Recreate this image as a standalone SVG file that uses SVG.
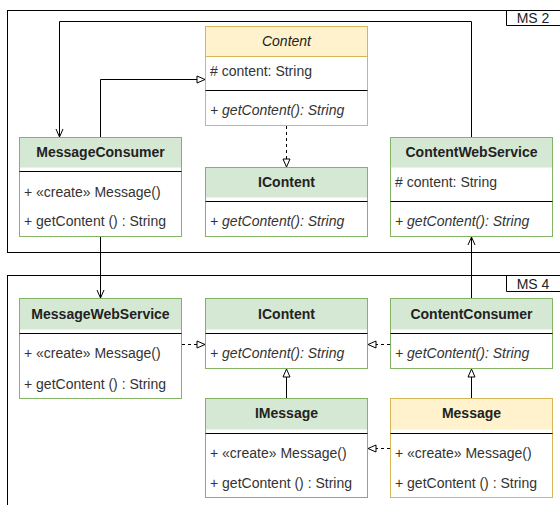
<svg xmlns="http://www.w3.org/2000/svg" width="560" height="505" viewBox="0 0 560 505">
<style>
text{font-family:"Liberation Sans",Arial,Helvetica,sans-serif;font-size:14px;fill:#333}
.h{font-weight:bold;text-anchor:middle;fill:#222}
.i{font-style:italic}
.hi{font-style:italic;text-anchor:middle;fill:#222}
.g{fill:#d5e8d4}
.y{fill:#fff2cc}
.gb{fill:#fff;stroke:#82b366}
.yb{fill:#fff;stroke:#d6b656}
.gs{fill:none;stroke:#82b366}
.ys{fill:none;stroke:#d6b656}
.d{stroke:#000;stroke-width:1}
.frame{fill:none;stroke:#000}
.c{fill:none;stroke:#000;stroke-width:1}
.dash{stroke-dasharray:3,3}
.ms{text-anchor:middle;fill:#222}
</style>
<defs>
<marker id="tri" markerUnits="userSpaceOnUse" markerWidth="12" markerHeight="12" refX="9" refY="5" orient="auto" overflow="visible">
<path d="M1,1.5 L9,5 L1,8.5 Z" fill="#fff" stroke="#000" stroke-width="1"/>
</marker>
<marker id="open" markerUnits="userSpaceOnUse" markerWidth="12" markerHeight="12" refX="9" refY="4" orient="auto" overflow="visible">
<path d="M1,0.5 L9,4 L1,7.5" fill="none" stroke="#000" stroke-width="1"/>
</marker>
</defs>

<g id="frames">
<rect class="frame" x="7.5" y="10.5" width="570" height="242"/>
<path class="frame" d="M506.5,10.5 V25.5 H570"/>
<text class="ms" x="533" y="23">MS 2</text>
<rect class="frame" x="7.5" y="275.5" width="570" height="250"/>
<path class="frame" d="M506.5,275.5 V291.5 H570"/>
<text class="ms" x="533" y="289">MS 4</text>
</g>

<g id="Content">
<rect class="yb" x="205.5" y="26.5" width="162" height="99"/>
<rect class="y" x="206" y="27" width="161" height="29.5"/>
<path class="ys" d="M205.5,56.5 H367.5"/>
<rect class="ys" x="205.5" y="26.5" width="162" height="99"/>
<text class="hi" x="286.5" y="46">Content</text>
<text x="210" y="76"># content: String</text>
<line class="d" x1="205.5" y1="90.5" x2="367.5" y2="90.5"/>
<text class="i" x="210" y="115">+ getContent(): String</text>
</g>

<g id="MessageConsumer">
<rect class="gb" x="19.5" y="137.5" width="162" height="99"/>
<rect class="g" x="20" y="138" width="161" height="29.5"/>
<text class="h" x="100.5" y="157">MessageConsumer</text>
<line class="d" x1="19.5" y1="171.5" x2="181.5" y2="171.5"/>
<text x="24" y="197">+ «create» Message()</text>
<text x="24" y="226">+ getContent () : String</text>
</g>

<g id="IContent1">
<rect class="gb" x="205.5" y="167.5" width="162" height="69"/>
<rect class="g" x="206" y="168" width="161" height="29.5"/>
<text class="h" x="286.5" y="187">IContent</text>
<line class="d" x1="205.5" y1="201.5" x2="367.5" y2="201.5"/>
<text class="i" x="210" y="226">+ getContent(): String</text>
</g>

<g id="ContentWebService">
<rect class="gb" x="390.5" y="137.5" width="162" height="99"/>
<rect class="g" x="391" y="138" width="161" height="29.5"/>
<text class="h" x="471.5" y="157">ContentWebService</text>
<text x="395" y="187"># content: String</text>
<line class="d" x1="390.5" y1="201.5" x2="552.5" y2="201.5"/>
<text class="i" x="395" y="226">+ getContent(): String</text>
</g>

<g id="MessageWebService">
<rect class="gb" x="19.5" y="298.5" width="162" height="100"/>
<rect class="g" x="20" y="299" width="161" height="30.5"/>
<text class="h" x="100.5" y="319">MessageWebService</text>
<line class="d" x1="19.5" y1="333.5" x2="181.5" y2="333.5"/>
<text x="24" y="358">+ «create» Message()</text>
<text x="24" y="389">+ getContent () : String</text>
</g>

<g id="IContent2">
<rect class="gb" x="205.5" y="298.5" width="162" height="70"/>
<rect class="g" x="206" y="299" width="161" height="30.5"/>
<text class="h" x="286.5" y="319">IContent</text>
<line class="d" x1="205.5" y1="333.5" x2="367.5" y2="333.5"/>
<text class="i" x="210" y="358">+ getContent(): String</text>
</g>

<g id="ContentConsumer">
<rect class="gb" x="390.5" y="298.5" width="162" height="70"/>
<rect class="g" x="391" y="299" width="161" height="30.5"/>
<text class="h" x="471.5" y="319">ContentConsumer</text>
<line class="d" x1="390.5" y1="333.5" x2="552.5" y2="333.5"/>
<text class="i" x="395" y="358">+ getContent(): String</text>
</g>

<g id="IMessage">
<rect class="gb" x="205.5" y="398.5" width="162" height="99"/>
<rect class="g" x="206" y="399" width="161" height="30.5"/>
<text class="h" x="286.5" y="418">IMessage</text>
<line class="d" x1="205.5" y1="433.5" x2="367.5" y2="433.5"/>
<text x="210" y="458">+ «create» Message()</text>
<text x="210" y="488">+ getContent () : String</text>
</g>

<g id="Message">
<rect class="yb" x="390.5" y="398.5" width="162" height="99"/>
<rect class="y" x="391" y="399" width="161" height="30.5"/>
<text class="h" x="471.5" y="418">Message</text>
<line class="d" x1="390.5" y1="433.5" x2="552.5" y2="433.5"/>
<text x="395" y="458">+ «create» Message()</text>
<text x="395" y="488">+ getContent () : String</text>
</g>

<g id="connectors">
<path class="c" d="M471.5,137 V21.5 H59.5 V137" marker-end="url(#open)"/>
<path class="c" d="M100.5,137 V79.5 H205" marker-end="url(#tri)"/>
<path class="c dash" d="M286.5,126 V167" marker-end="url(#tri)"/>
<path class="c" d="M100.5,237 V298" marker-end="url(#open)"/>
<path class="c" d="M471.5,298 V237" marker-end="url(#open)"/>
<path class="c dash" d="M182,344.5 H205" marker-end="url(#tri)"/>
<path class="c dash" d="M390,344.5 H368" marker-end="url(#tri)"/>
<path class="c" d="M286.5,398 V369" marker-end="url(#tri)"/>
<path class="c" d="M471.5,398 V369" marker-end="url(#tri)"/>
<path class="c dash" d="M390,448.5 H368" marker-end="url(#tri)"/>
</g>
</svg>
